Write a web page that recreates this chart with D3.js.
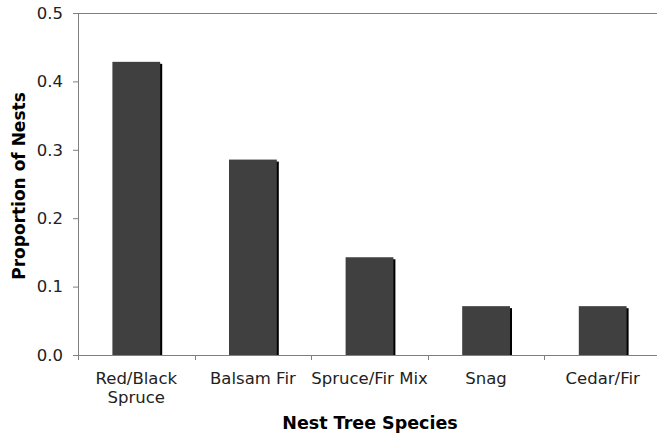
<!DOCTYPE html>
<html>
<head>
<meta charset="utf-8">
<script src="https://cdn.jsdelivr.net/npm/d3@7"></script>
<style>
  html, body { margin: 0; padding: 0; background: #fff; }
  svg { display: block; font-family: "DejaVu Sans", Verdana, sans-serif; }
</style>
</head>
<body>
<svg id="chart" width="657" height="438"></svg>
<script>
// Nest tree species and the share of nests found in each
const species = [["Red/Black", "Spruce"], ["Balsam Fir"], ["Spruce/Fir Mix"], ["Snag"], ["Cedar/Fir"]];
const proportions = [0.4286, 0.2857, 0.1429, 0.0714, 0.0714];
const yTicks = [0, 0.1, 0.2, 0.3, 0.4, 0.5];

const svg = d3.select("#chart");
const margin = { left: 78, right: -4, top: 13, bottom: 83 };
const W = 657, H = 438;
const x0 = margin.left, x1 = W - margin.right;
const y0 = H - margin.bottom, y1 = margin.top;

const keys = species.map(d => d.join(" "));
const x = d3.scaleBand().domain(keys).range([x0, x1]).paddingInner(0.59).paddingOuter(0.295);
const xb = d3.scaleBand().domain(keys).range([x0, x1]).padding(0);
const y = d3.scaleLinear().domain([0, 0.5]).range([y0, y1]);

const axisColor = "#7f7f7f";
const labelSize = 16.5;

// top boundary at 0.5
svg.append("line")
  .attr("x1", x0).attr("x2", x1).attr("y1", y(0.5)).attr("y2", y(0.5))
  .attr("stroke", axisColor).attr("stroke-width", 1).attr("shape-rendering", "crispEdges");

// bars with drop shadow
const bars = svg.append("g");
proportions.forEach((v, i) => {
  const k = keys[i];
  bars.append("rect")
    .attr("x", x(k) + 2).attr("y", y(v) + 2)
    .attr("width", x.bandwidth()).attr("height", y0 - y(v) - 1)
    .attr("fill", "#000");
  bars.append("rect")
    .attr("x", x(k)).attr("y", y(v))
    .attr("width", x.bandwidth()).attr("height", y0 - y(v))
    .attr("fill", "#404040");
});

// y axis
const yAxis = svg.append("g").attr("transform", `translate(${x0},0)`)
  .call(d3.axisLeft(y).tickValues(yTicks).tickFormat(d3.format(".1f")).tickSize(5).tickPadding(10));
yAxis.select(".domain").attr("stroke", axisColor);
yAxis.selectAll(".tick line").attr("stroke", axisColor);
yAxis.selectAll(".tick text").attr("font-size", labelSize).attr("fill", "#222")
  .attr("font-family", "\"DejaVu Sans\", Verdana, sans-serif");

// x axis: ticks at category boundaries
const xg = svg.append("g");
xg.append("line").attr("x1", x0).attr("x2", x1).attr("y1", y0).attr("y2", y0)
  .attr("stroke", axisColor).attr("shape-rendering", "crispEdges");
const bounds = keys.map(k => xb(k)).concat([x1]);
xg.selectAll("line.tk").data(bounds).enter().append("line")
  .attr("class", "tk")
  .attr("x1", d => Math.round(d) + 0.5).attr("x2", d => Math.round(d) + 0.5)
  .attr("y1", y0).attr("y2", y0 + 5)
  .attr("stroke", axisColor);

species.forEach((lines, i) => {
  const cx = xb(keys[i]) + xb.bandwidth() / 2;
  const t = xg.append("text")
    .attr("x", cx).attr("y", y0 + 29)
    .attr("text-anchor", "middle").attr("font-size", labelSize).attr("fill", "#222");
  lines.forEach((ln, j) => {
    t.append("tspan").attr("x", cx).attr("dy", j === 0 ? 0 : 19).text(ln);
  });
});

// axis titles
svg.append("text")
  .attr("x", 370).attr("y", 429)
  .attr("text-anchor", "middle").attr("font-size", 17.5).attr("font-weight", "bold").attr("fill", "#000")
  .text("Nest Tree Species");

svg.append("text")
  .attr("transform", `translate(25,${(y0 + y1) / 2 + 2}) rotate(-90)`)
  .attr("text-anchor", "middle").attr("font-size", 17).attr("font-weight", "bold").attr("fill", "#000")
  .text("Proportion of Nests");
</script>
</body>
</html>
